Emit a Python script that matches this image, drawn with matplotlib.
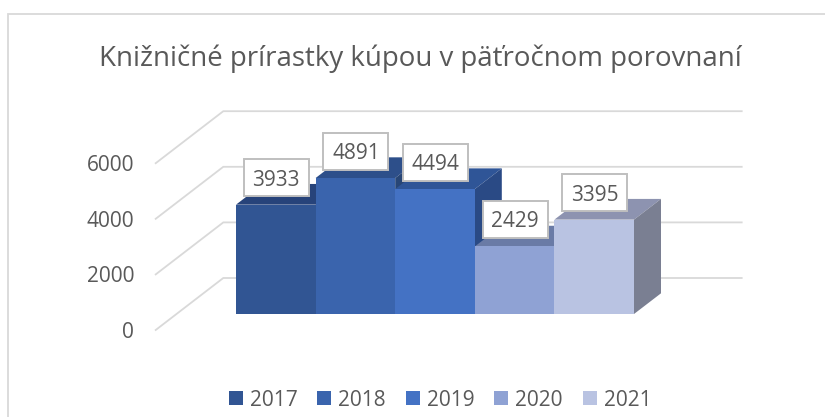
import matplotlib
matplotlib.use('Agg')
import matplotlib.pyplot as plt
from matplotlib.lines import Line2D
from matplotlib.patches import Polygon, Rectangle

plt.rcParams['font.family'] = ['Open Sans', 'DejaVu Sans']

years = ['2017', '2018', '2019', '2020', '2021']
values = [3933, 4891, 4494, 2429, 3395]
y_ticks = [0, 2000, 4000, 6000]
title = 'Knižničné prírastky kúpou v päťročnom porovnaní'

front_colors = ['#315593', '#3a64ad', '#4472c4', '#8fa2d4', '#b9c3e2']
top_colors = ['#27437a', '#2d4f8a', '#2f5597', '#6a7ba6', '#8d93b0']
side_colors = ['#223a66', '#284676', '#2a4a85', '#5f6e93', '#7a7f92']
text_color = '#595959'
grid_color = '#d9d9d9'

W, H = 825, 417
px_per_unit = 55.6 / 2000

fig = plt.figure(figsize=(W / 100, H / 100), dpi=100)


def axes_px(left, right, y_zero, y_top_value):
    # axes placed by pixels, y scale is the same for all of them
    top = y_zero - y_top_value * px_per_unit
    a = fig.add_axes([left / W, 1 - y_zero / H, (right - left) / W, (y_zero - top) / H])
    a.patch.set_alpha(0)
    for s in a.spines.values():
        s.set_visible(False)
    return a


# outer frame of the chart, only the top and left edges are inside the picture
fig.add_artist(Line2D([7.5 / W, 7.5 / W, 1], [0, 1 - 13.5 / H, 1 - 13.5 / H], transform=fig.transFigure,
                      color=grid_color, lw=1.3, solid_joinstyle='miter'))

# wall axes: holds tick labels and the grid, x is in pixels
wall = axes_px(155.7, 741.7, 330, 6000)
wall.set_xlim(155.7, 741.7)
wall.set_ylim(0, 6000)
wall.set_xticks([])
wall.set_yticks(y_ticks)
wall.tick_params(axis='y', length=0, pad=15.6, labelsize=15, labelcolor=text_color)
for lab in wall.get_yticklabels():
    lab.set_verticalalignment('center_baseline')
wall_dx = 67.6
wall_dy = 52 / px_per_unit
for t in y_ticks:
    wall.plot([155.7, 155.7 + wall_dx, 741.7], [t, t + wall_dy, t + wall_dy],
              color=grid_color, lw=1.3, clip_on=False, solid_joinstyle='miter')

# bar axes: front plane of the 3d bars
ax = axes_px(236, 634, 314, 6000)
ax.set_xlim(-0.5, 4.5)
ax.set_ylim(0, 6000)
ax.set_xticks([])
ax.set_yticks([])

depth_x = 27 / 79.6
depth_y = 20.7 / px_per_unit
handles = []
for i, v in enumerate(values):
    l, r = i - 0.5, i + 0.5
    ax.add_patch(Polygon([(l, v), (l + depth_x, v + depth_y), (r + depth_x, v + depth_y), (r, v)],
                         fc=top_colors[i], ec='none', clip_on=False, zorder=2 + i))
    ax.add_patch(Polygon([(r, 0), (r + depth_x, depth_y), (r + depth_x, v + depth_y), (r, v)],
                         fc=side_colors[i], ec='none', clip_on=False, zorder=2 + i))
    b = ax.bar(i, v, width=1, color=front_colors[i], clip_on=False, zorder=2 + i, label=years[i])
    handles.append(b[0])

# data labels, fixed size white boxes above the bar tops
box_w, box_h = 65, 37
for i, v in enumerate(values):
    x, y = ax.transData.transform((i, v))
    cx, cy = x + 0.5, y + 27
    fig.add_artist(Rectangle(((cx - box_w / 2) / W, (cy - box_h / 2) / H), box_w / W, box_h / H,
                             transform=fig.transFigure, fc='white', ec='#bfbfbf', lw=1.4, zorder=20))
    fig.text(cx / W, cy / H, str(v), ha='center', va='center_baseline', fontsize=15,
             color=text_color, zorder=21)

fig.text(420 / W, 1 - 59 / H, title, ha='center', va='center', fontsize=19.9, color=text_color)

fig.legend(handles, years, ncol=5, loc='center', bbox_to_anchor=(440 / W, 1 - 400 / H), frameon=False,
           fontsize=15, labelcolor=text_color, handlelength=0.67, handleheight=0.67, handletextpad=0.34,
           columnspacing=0.95, borderpad=0, borderaxespad=0)

fig.savefig('out.png', dpi=100)
